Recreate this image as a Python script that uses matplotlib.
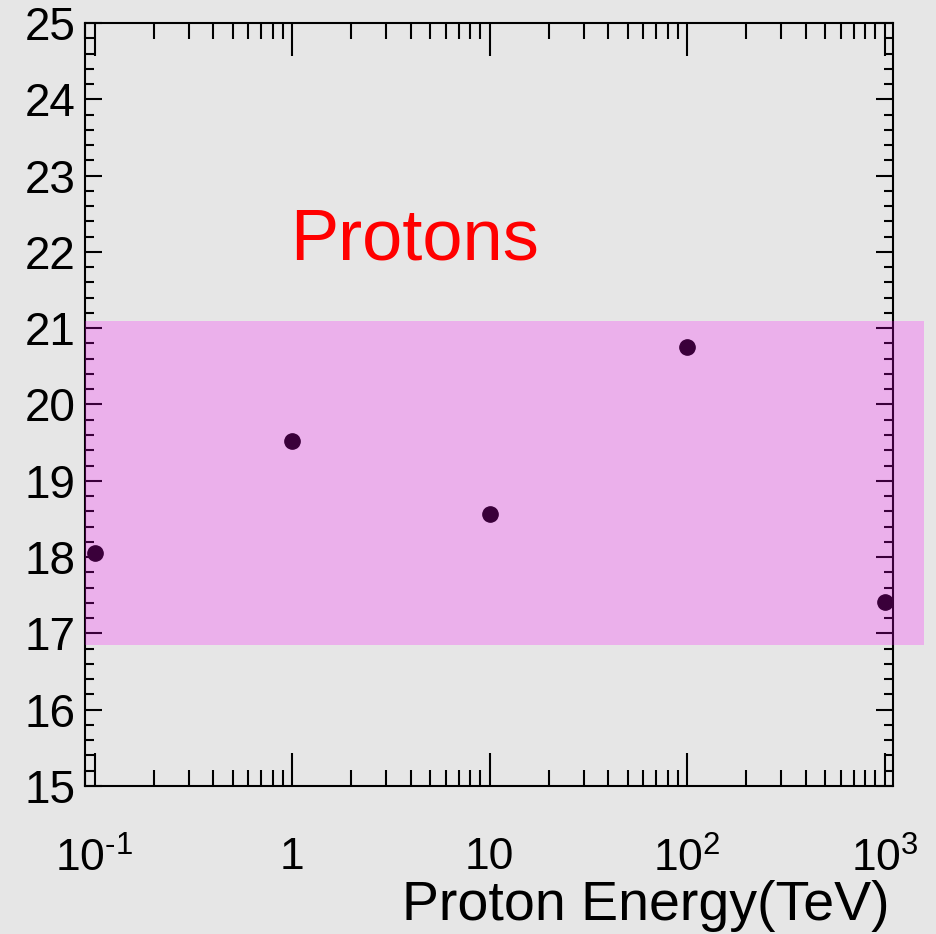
import matplotlib
matplotlib.use("Agg")
import matplotlib.pyplot as plt
from matplotlib.ticker import MultipleLocator, LogLocator, NullFormatter, FixedLocator

plt.rcParams['font.family'] = ['Liberation Sans', 'DejaVu Sans']
plt.rcParams['mathtext.fontset'] = 'custom'
plt.rcParams['mathtext.rm'] = 'Liberation Sans'
plt.rcParams['mathtext.it'] = 'Liberation Sans'

# Data
energy_tev = [0.1, 1, 10, 100, 1000]
values = [18.05, 19.52, 18.56, 20.75, 17.41]
band_low, band_high = 16.85, 21.1
x_tick_values = [0.1, 1, 10, 100, 1000]
x_tick_labels = ['$\\mathregular{10^{\u20101}}$', '1', '10',
                 r'$\mathregular{10^{2}}$', r'$\mathregular{10^{3}}$']
y_tick_values = list(range(15, 26))

bg = '#e6e6e6'
W, H = 936, 934
fig = plt.figure(figsize=(W / 100, H / 100), dpi=100, facecolor=bg)
ax = fig.add_axes([85 / W, (H - 786) / H, (893 - 85) / W, (786 - 23) / H], facecolor=bg)

ax.set_xscale('log')
ax.set_xlim(0.0895, 1104)
ax.set_ylim(15, 25)

ax.plot(energy_tev, values, 'o', color='black', markersize=11, zorder=3)

# shaded band drawn on top, running slightly past the right frame
ax.axhspan(band_low, band_high, xmin=0, xmax=(924 - 85) / (893 - 85),
           color='#ff00ff', alpha=0.23, lw=0, zorder=5, clip_on=False)

for s in ax.spines.values():
    s.set_linewidth(1.5)
    s.set_color('black')

ax.xaxis.set_major_locator(FixedLocator(x_tick_values))
ax.set_xticklabels(x_tick_labels)
ax.xaxis.set_minor_locator(LogLocator(base=10, subs=range(2, 10), numticks=20))
ax.xaxis.set_minor_formatter(NullFormatter())
ax.yaxis.set_major_locator(FixedLocator(y_tick_values))
ax.set_yticklabels([str(v) for v in y_tick_values])
ax.yaxis.set_minor_locator(MultipleLocator(0.2))

ax.tick_params(axis='x', which='major', direction='in', length=24, width=1.5,
               top=True, bottom=True, labelsize=32, pad=37)
ax.tick_params(axis='x', which='minor', direction='in', length=11.5, width=1.5,
               top=True, bottom=True)
ax.tick_params(axis='y', which='major', direction='in', length=12.5, width=1.5,
               left=True, right=True, labelsize=33, pad=7)
ax.tick_params(axis='y', which='minor', direction='in', length=6.5, width=1.5,
               left=True, right=True)

fig.text(890 / W, (H - 920) / H, 'Proton Energy(TeV)', fontsize=40,
         ha='right', va='baseline', color='black')
fig.text(290 / W, (H - 260) / H, 'Protons', fontsize=52,
         ha='left', va='baseline', color='#ff0000')

fig.savefig('out.png', dpi=100, facecolor=bg)
